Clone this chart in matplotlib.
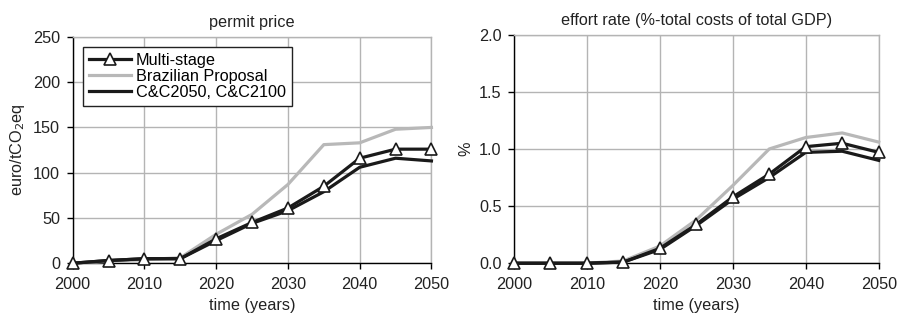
import matplotlib
matplotlib.use("Agg")
import matplotlib.pyplot as plt

plt.rcParams['font.family'] = ['Liberation Sans', 'DejaVu Sans']

years = [2000, 2005, 2010, 2015, 2020, 2025, 2030, 2035, 2040, 2045, 2050]

price_multi = [0, 3, 5, 5, 27, 45, 61, 85, 116, 126, 126]
price_brazil = [0, 2, 4, 6, 32, 54, 87, 131, 133, 148, 150]
price_cc = [0, 3, 5, 5, 25, 44, 58, 79, 106, 116, 113]

effort_multi = [0, 0, 0, 0.01, 0.13, 0.34, 0.58, 0.78, 1.02, 1.05, 0.97]
effort_brazil = [0, 0, 0, 0.02, 0.15, 0.38, 0.68, 1.00, 1.10, 1.14, 1.06]
effort_cc = [0, 0, 0, 0.01, 0.12, 0.33, 0.56, 0.75, 0.97, 0.98, 0.90]

labels = ["Multi-stage", "Brazilian Proposal", "C&C2050, C&C2100"]
xticks = [2000, 2010, 2020, 2030, 2040, 2050]

BLACK = '#1a1a1a'
GRAY = '#b8b8b8'
GRID = '#b4b4b4'
TXT = '#222222'
FS = 11.7

fig = plt.figure(figsize=(8.97, 3.21), dpi=100)
ax1 = fig.add_axes([0.081, 0.180, 0.400, 0.705])
ax2 = fig.add_axes([0.573, 0.180, 0.4066, 0.712])

def style(ax, yticks, ylim, fmt):
    ax.set_xlim(2000, 2050)
    ax.set_ylim(*ylim)
    ax.set_xticks(xticks)
    ax.set_yticks(yticks)
    ax.set_yticklabels([fmt(v) for v in yticks])
    ax.grid(True, color=GRID, linewidth=1)
    ax.set_axisbelow(True)
    for s in ['top', 'right']:
        ax.spines[s].set_color(GRID)
        ax.spines[s].set_linewidth(1)
    for s in ['left', 'bottom']:
        ax.spines[s].set_color('black')
        ax.spines[s].set_linewidth(1)
    ax.tick_params(axis='both', direction='out', length=4, width=1, colors='black',
                   labelsize=FS, labelcolor=TXT)
    ax.tick_params(axis='x', pad=6)
    ax.tick_params(axis='y', pad=5)
    ax.set_xlabel("time (years)", fontsize=FS, color=TXT, labelpad=4)

def draw(ax, multi, brazil, cc):
    l2, = ax.plot(years, brazil, color=GRAY, linewidth=2.3, clip_on=False, zorder=3)
    l3, = ax.plot(years, cc, color=BLACK, linewidth=2.3, clip_on=False, zorder=4)
    l1, = ax.plot(years, multi, color=BLACK, linewidth=2.3, marker='^', markersize=9,
                  markerfacecolor='white', markeredgecolor=BLACK, markeredgewidth=1.2,
                  clip_on=False, zorder=5)
    return l1, l2, l3

h = draw(ax1, price_multi, price_brazil, price_cc)
style(ax1, [0, 50, 100, 150, 200, 250], (0, 250), lambda v: f"{v:d}")
ax1.set_ylabel("euro/tCO$_2$eq", fontsize=FS, color=TXT, labelpad=4)
ax1.set_title("permit price", fontsize=FS, color=TXT, pad=7)
leg = ax1.legend(h, labels, loc='upper left', bbox_to_anchor=(0.029, 0.956),
                 fontsize=FS, frameon=True, fancybox=False, handlelength=2.6,
                 borderpad=0.35, labelspacing=0.08, handletextpad=0.3,
                 borderaxespad=0)
leg.get_frame().set_edgecolor(TXT)
leg.get_frame().set_linewidth(1)
leg.get_frame().set_alpha(1)

draw(ax2, effort_multi, effort_brazil, effort_cc)
style(ax2, [0, 0.5, 1.0, 1.5, 2.0], (0, 2.0), lambda v: f"{v:.1f}")
ax2.set_ylabel("%", fontsize=FS, color=TXT, labelpad=4)
ax2.set_title("effort rate (%-total costs of total GDP)", fontsize=FS, color=TXT, pad=7)

fig.savefig("out.png", dpi=100)
